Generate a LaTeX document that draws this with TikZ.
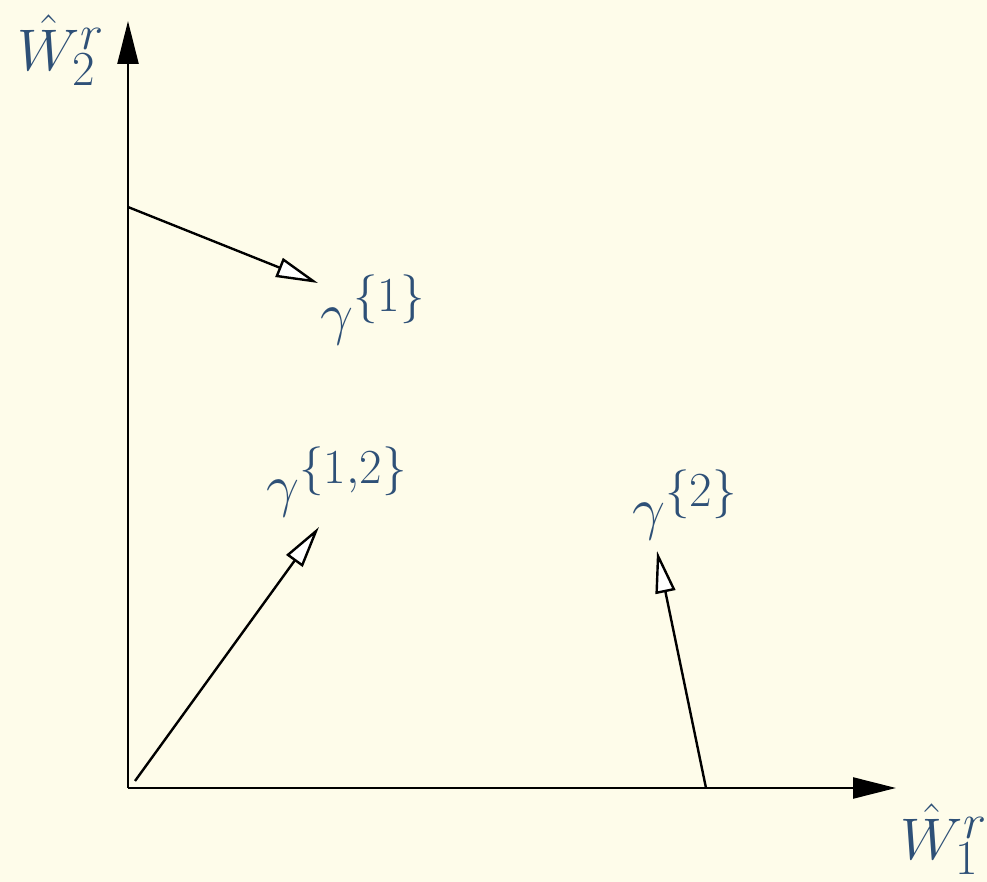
\documentclass[tikz,border=0pt]{standalone}
\usetikzlibrary{arrows.meta}
\definecolor{bgcream}{HTML}{FEFCEA}
\definecolor{labelblue}{HTML}{2E5077}
\begin{document}
\begin{tikzpicture}[x=0.5pt,y=-0.5pt,
  axis/.style={line width=1.2pt,-{Triangle[length=21.5pt,width=10.5pt]}},
  vec/.style={line width=1.2pt,-{Triangle[open,fill=white,length=21pt,width=10pt]}},
  lbl/.style={inner sep=0pt,text=labelblue,font=\Huge,scale=1.18}]
\fill[bgcream] (0,0) rectangle (987,882);
\useasboundingbox (0,0) rectangle (987,882);
\coordinate (O) at (128,788);
\coordinate (ytip) at (128,21);
\coordinate (xtip) at (896,788);
\coordinate (s1) at (128,207);
\coordinate (t1) at (318,283);
\coordinate (s12) at (135,781);
\coordinate (t12) at (319,527);
\coordinate (s2) at (706,788);
\coordinate (t2) at (657,551);
\draw[axis] (O) -- (ytip);
\draw[axis] (O) -- (xtip);
\draw[vec] (s1) -- (t1);
\draw[vec] (s12) -- (t12);
\draw[vec] (s2) -- (t2);
\node[lbl] (w2) at (61,50) {$\hat{W}_2^r$};
\node[lbl] (w1) at (944,839) {$\hat{W}_1^r$};
\node[lbl] (g1) at (373,310) {$\gamma^{\{1\}}$};
\node[lbl] (g12) at (337,482) {$\gamma^{\{1,2\}}$};
\node[lbl] (g2) at (685,505) {$\gamma^{\{2\}}$};
\end{tikzpicture}
\end{document}
